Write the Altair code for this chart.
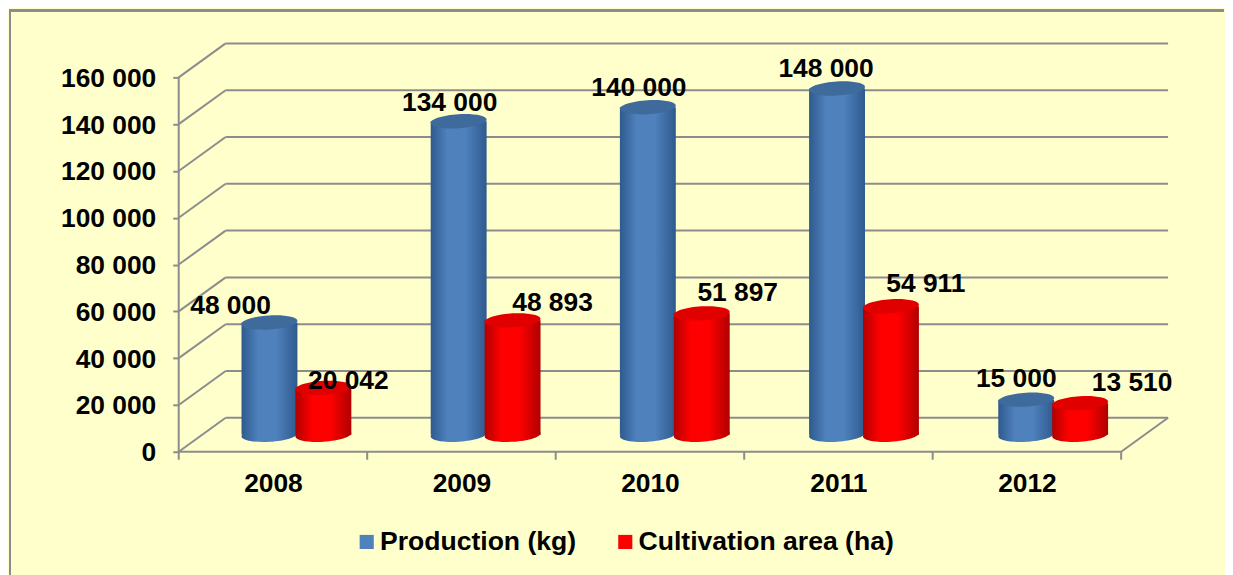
import json
import altair as alt
import pandas as pd

# --- chart values -----------------------------------------------------------
YEARS = ["2008", "2009", "2010", "2011", "2012"]
PRODUCTION = [48000, 134000, 140000, 148000, 15000]
AREA = [20042, 48893, 51897, 54911, 13510]
SERIES = ["Production (kg)", "Cultivation area (ha)"]
Y_TICKS = [0, 20000, 40000, 60000, 80000, 100000, 120000, 140000, 160000]

# --- layout -----------------------------------------------------------------
W, H = 992, 409
PX_X = 188.8                 # pixels per category
PX_Y = 375 / 160000          # pixels per unit of value
DEPTH_X = 47 / PX_X          # depth of the box, in data units
DEPTH_Y = 34 / PX_Y
BAR_STEP = 189.5 / PX_X
BAR_HALF = 28 / PX_X
BAR_SHIFT = 27 / PX_X
LEFT, TOP, RIGHT, BOTTOM = -170, -34, 1047, 533
FONT = "Liberation Sans"
BG = "#FFFFCC"
GRID = "#8C8C8C"
FS = 26.4

# per-label nudges (pixels) as placed by hand in the source chart
NUDGE_X = {SERIES[0]: [-39, -9, -9, -11, -10], SERIES[1]: [25, 40, 36, 35, 52]}
NUDGE_Y = {SERIES[0]: [-16, -18, -19, -19, -21], SERIES[1]: [-7, -17, -20, -22, -20]}

ELLIPSE = "M-1,0.06 A1,0.25 -3.5 1,1 1,-0.06 A1,0.25 -3.5 1,1 -1,0.06 Z"
SIZE = 56 ** 2


def grad(edge, mid):
    return alt.Gradient(
        gradient="linear", x1=0, x2=1, y1=0, y2=0,
        stops=[
            alt.GradientStop(color=edge, offset=0),
            alt.GradientStop(color=mid, offset=0.3),
            alt.GradientStop(color=mid, offset=0.62),
            alt.GradientStop(color=edge, offset=1),
        ],
    )


STYLE = {
    SERIES[0]: dict(body=grad("#2E5A8E", "#4F81BD"), top="#3F6A9C", legend="#4F81BD"),
    SERIES[1]: dict(body=grad("#B00000", "#FF0000"), top="#E00000", legend="#FF0000"),
}

# --- tables -----------------------------------------------------------------
rows = []
for s, values, sign in ((SERIES[0], PRODUCTION, -1), (SERIES[1], AREA, 1)):
    for i, v in enumerate(values):
        xc = 0.5 + i * BAR_STEP + DEPTH_X / 2 + sign * BAR_SHIFT
        base = DEPTH_Y / 2
        rows.append(dict(
            series=s, value=v, xc=xc, x0=xc - BAR_HALF, x1=xc + BAR_HALF,
            base=base, top=base + v,
            lx=xc + NUDGE_X[s][i] / PX_X,
            ly=base + v - NUDGE_Y[s][i] / PX_Y,
            label=f"{v:,}".replace(",", " "),
        ))
bars = pd.DataFrame(rows)

segments = []
for v in Y_TICKS:
    segments.append(dict(a=DEPTH_X, b=5 + DEPTH_X, c=v + DEPTH_Y, d=v + DEPTH_Y))
    segments.append(dict(a=0, b=DEPTH_X, c=v, d=v + DEPTH_Y))
segments.append(dict(a=0, b=5, c=0, d=0))
segments.append(dict(a=5, b=5 + DEPTH_X, c=0, d=DEPTH_Y))
segments.append(dict(a=0, b=0, c=0, d=160000))
segments = pd.DataFrame(segments)
ticks = pd.DataFrame({"t": list(range(6))})

# --- scales and axes --------------------------------------------------------
xs = alt.Scale(domain=[0, W / PX_X], nice=False, zero=False)
ys = alt.Scale(domain=[0, H / PX_Y], nice=False, zero=False)
axis_font = dict(labelFont=FONT, labelFontSize=FS, labelFontWeight="bold", labelColor="black")
year_expr = json.dumps(YEARS) + "[floor(datum.value)]"
x_axis = alt.Axis(
    values=[i + 0.5 for i in range(5)], labelExpr=year_expr, ticks=False,
    domain=False, grid=False, labelPadding=19, zindex=1, labelFlush=False, **axis_font)
y_axis = alt.Axis(
    values=Y_TICKS, labelExpr="replace(format(datum.value, ','), ',', ' ')",
    domain=False, grid=False, tickColor=GRID, tickWidth=2, tickSize=6,
    labelPadding=17, labelOffset=1, zindex=1, **axis_font)


def X(f):
    return alt.X(f, type="quantitative", scale=xs, axis=x_axis, title=None)


def Y(f):
    return alt.Y(f, type="quantitative", scale=ys, axis=y_axis, title=None)


# --- layers -----------------------------------------------------------------
panel = alt.Chart(ticks).mark_rect(fill=BG, stroke=None).encode(
    x=alt.value(LEFT), x2=alt.value(RIGHT), y=alt.value(TOP), y2=alt.value(BOTTOM))
edge_left = alt.Chart(ticks).mark_rule(color=GRID, strokeWidth=2).encode(
    x=alt.value(LEFT + 1), y=alt.value(TOP), y2=alt.value(BOTTOM))
edge_top = alt.Chart(ticks).mark_rule(color=GRID, strokeWidth=2).encode(
    x=alt.value(LEFT), x2=alt.value(RIGHT), y=alt.value(TOP + 1))

grid = alt.Chart(segments).mark_rule(color=GRID, strokeWidth=2).encode(
    x=X("a"), x2=alt.X2("b"), y=Y("c"), y2=alt.Y2("d"))
x_ticks = alt.Chart(ticks).mark_rule(color=GRID, strokeWidth=2).encode(
    x=X("t"), y=alt.value(H), y2=alt.value(H + 8))

legend_layer = alt.Chart(bars).mark_point(filled=True, size=0, opacity=1).encode(
    x=X("xc"), y=Y("top"),
    color=alt.Color("series:N", scale=alt.Scale(
        domain=SERIES, range=[STYLE[s]["legend"] for s in SERIES]),
        legend=alt.Legend(
            orient="none", legendX=175, legendY=486, direction="horizontal",
            title=None, symbolType="square", symbolSize=200, symbolStrokeWidth=0,
            labelFont=FONT, labelFontSize=26.6, labelFontWeight="bold",
            labelColor="black", labelLimit=400, labelOffset=0, columnPadding=35,
            rowPadding=0)),
)

cylinders = []
for s in SERIES:
    d = bars[bars.series == s]
    sty = STYLE[s]
    cylinders += [
        alt.Chart(d).mark_point(filled=True, shape=ELLIPSE, size=SIZE, fill=sty["body"],
                                opacity=1, strokeWidth=0).encode(x=X("xc"), y=Y("base")),
        alt.Chart(d).mark_rect(fill=sty["body"]).encode(
            x=X("x0"), x2=alt.X2("x1"), y=Y("base"), y2=alt.Y2("top")),
        alt.Chart(d).mark_point(filled=True, shape=ELLIPSE, size=SIZE, fill=sty["top"],
                                opacity=1, strokeWidth=0).encode(x=X("xc"), y=Y("top")),
    ]

labels = alt.Chart(bars).mark_text(
    font=FONT, fontSize=FS, fontWeight="bold", color="black", baseline="middle", align="center"
).encode(x=X("lx"), y=Y("ly"), text="label:N")

chart = alt.layer(
    panel, edge_left, edge_top, grid, x_ticks, legend_layer, *cylinders, labels
).properties(
    width=W, height=H, background=BG, padding=0,
).configure_view(stroke=None)

chart.save("out.html", embed_options={"renderer": "svg", "actions": False})
